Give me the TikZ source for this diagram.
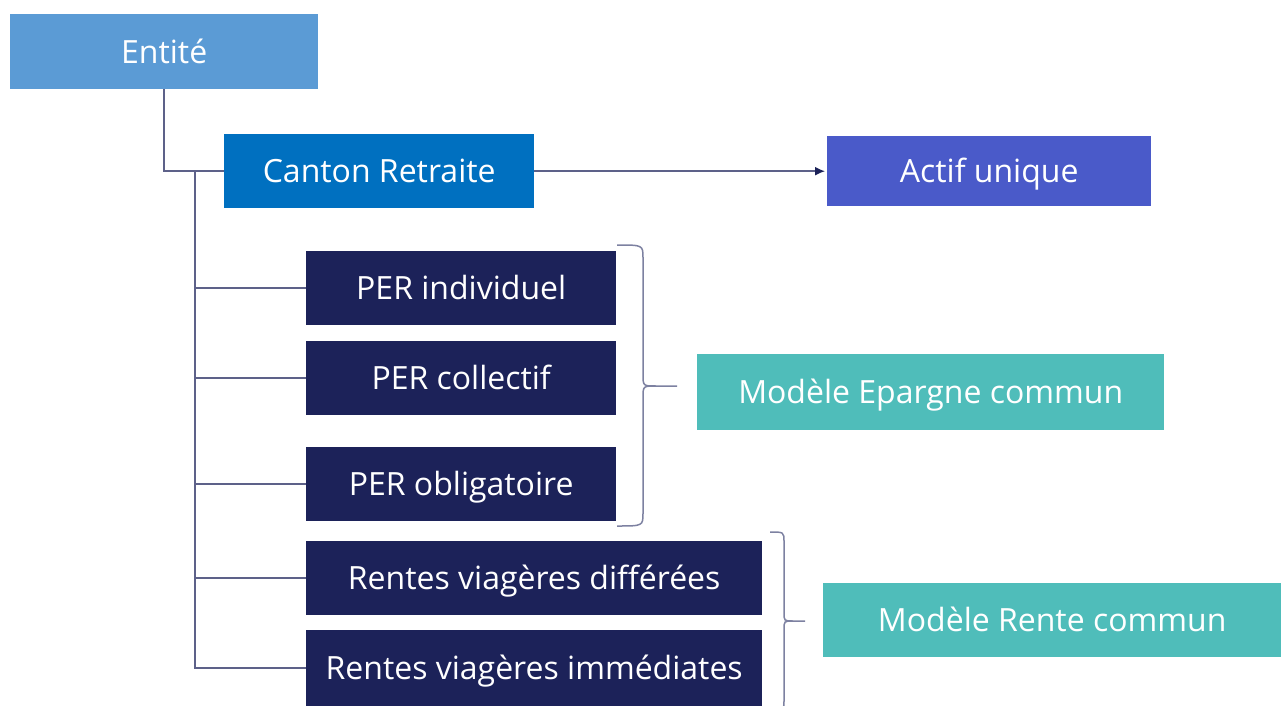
\documentclass[tikz,border=0pt]{standalone}
\usepackage{fontspec}
\setmainfont{Open Sans}
\usetikzlibrary{arrows.meta}

\definecolor{entblue}{HTML}{5B9BD5}
\definecolor{canblue}{HTML}{0070C0}
\definecolor{actblue}{HTML}{4A5AC9}
\definecolor{navy}{HTML}{1C2259}
\definecolor{teal}{HTML}{4FBDBA}
\definecolor{linecol}{HTML}{5D6189}

\begin{document}
\begin{tikzpicture}[x=1pt,y=-1pt,
  box/.style={anchor=north west, text=white, inner sep=0pt,
    text height=23pt, text depth=0pt,
    font=\fontsize{32}{38}\selectfont},
  conn/.style={draw=linecol, line width=1.5pt},
  bracestyle/.style={draw=linecol!80, line width=1.5pt}]
\useasboundingbox (0,0) rectangle (1281,706);

% boxes
\node[box, fill=entblue, minimum width=308pt, minimum height=75pt] (ent) at (10,14) {Entité};
\node[box, fill=canblue, minimum width=310pt, minimum height=74pt] (can) at (224,134) {Canton Retraite};
\node[box, fill=actblue, minimum width=324pt, minimum height=70pt] (act) at (827,136) {Actif unique};

\node[box, fill=navy, minimum width=310pt, minimum height=74pt] (per1) at (306,251) {PER individuel};
\node[box, fill=navy, minimum width=310pt, minimum height=74pt] (per2) at (306,341) {PER collectif};
\node[box, fill=navy, minimum width=310pt, minimum height=74pt] (per3) at (306,447) {PER obligatoire};
\node[box, fill=navy, minimum width=456pt, minimum height=74pt] (rv1) at (306,541) {Rentes viagères différées};
\node[box, fill=navy, minimum width=456pt, minimum height=76pt] (rv2) at (306,630) {Rentes viagères immédiates};

\node[box, fill=teal, minimum width=467pt, minimum height=76pt] (mep) at (697,354) {Modèle Epargne commun};
\node[box, fill=teal, minimum width=458pt, minimum height=74pt] (mre) at (823,583) {Modèle Rente commun};

% tree connectors
\draw[conn] (ent.south) |- (can.west);
\coordinate (trunk) at (195,171);
\foreach \n in {per1,per2,per3,rv1,rv2}
  \draw[conn] (trunk) |- (\n.west);

% arrow to the asset node
\draw[conn, -{Latex[length=10pt,width=9pt,color=navy]}, shorten >=2pt] (can.east) -- (act.west);

% braces
\coordinate (b1) at (677,386);
\coordinate (b2) at (805,621);
\draw[bracestyle] (617,245) .. controls (643,245) .. (643,258) -- (643,374)
  .. controls (643,386) .. (656,386) -- (b1);
\draw[bracestyle] (617,526) .. controls (643,526) .. (643,513) -- (643,398)
  .. controls (643,386) .. (656,386);
\draw[bracestyle] (770,532) .. controls (784,532) .. (784,542) -- (784,612)
  .. controls (784,621) .. (793,621) -- (b2);
\draw[bracestyle] (770,710) .. controls (784,710) .. (784,700) -- (784,630)
  .. controls (784,621) .. (793,621);
\end{tikzpicture}
\end{document}
